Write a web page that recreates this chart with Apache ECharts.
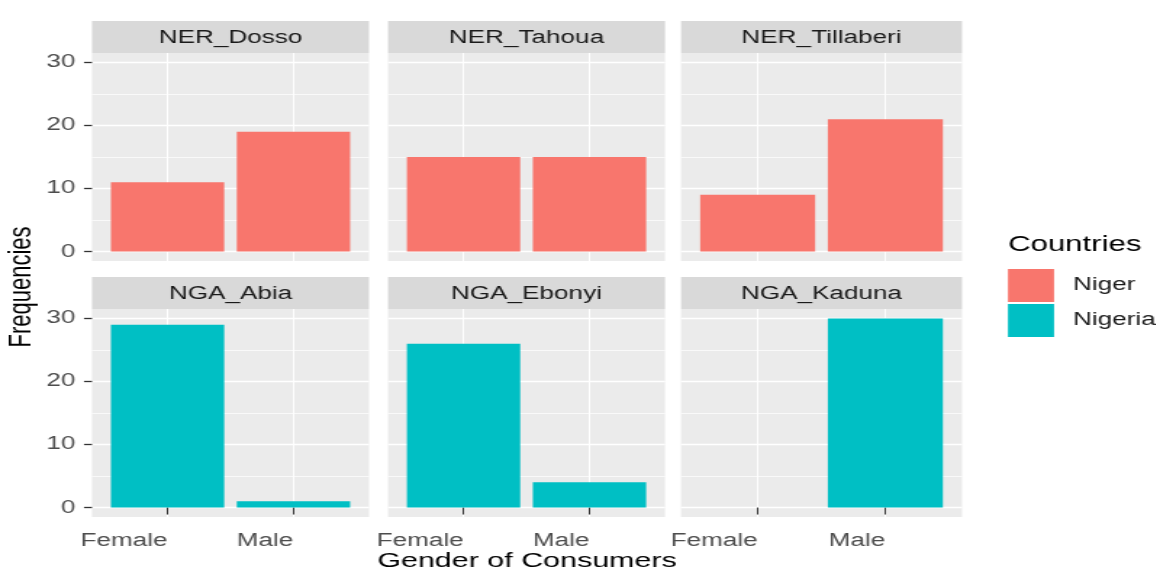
<!DOCTYPE html>
<html>
<head>
<meta charset="utf-8">
<script src="https://cdn.jsdelivr.net/npm/echarts@6/dist/echarts.min.js"></script>
<style>
  html, body { margin: 0; background: #fff; overflow: hidden; }
  /* the source picture is stretched sideways; draw narrow and stretch the same way */
  #main { height: 574px; transform-origin: 0 0; }
</style>
</head>
<body>
<div id="main"></div>
<script>
// data
const regions = ['NER_Dosso', 'NER_Tahoua', 'NER_Tillaberi', 'NGA_Abia', 'NGA_Ebonyi', 'NGA_Kaduna'];
const regionCountry = ['Niger', 'Niger', 'Niger', 'Nigeria', 'Nigeria', 'Nigeria'];
const genders = ['Female', 'Male'];
const femaleCounts = [11, 15, 9, 29, 26, 0];
const maleCounts = [19, 15, 21, 1, 4, 30];
const yTicks = [0, 10, 20, 30];
const yMinorBreaks = [5, 15, 25];
const countries = ['Niger', 'Nigeria'];
const countryColors = ['#F8766D', '#00BFC4'];

// horizontal stretch of the picture
const S = 1.45;
const W = 1156;
const el = document.getElementById('main');
el.style.width = (W / S) + 'px';
el.style.transform = 'scaleX(' + S + ')';
const sx = v => v / S;

// layout (facet panels), in picture pixels
const colLeft = [92, 388, 681];
const colWidth = [277, 277, 281];
const rowTop = [53, 309];
const rowH = 208;
const stripH = 32;
const font = "'Liberation Sans', Arial, sans-serif";

const chart = echarts.init(el);

const grids = [], xAxes = [], yAxes = [], series = [], graphics = [];

regions.forEach((reg, i) => {
  const col = i % 3, row = Math.floor(i / 3);
  grids.push({
    left: sx(colLeft[col]), top: rowTop[row], width: sx(colWidth[col]), height: rowH,
    show: true, backgroundColor: '#EBEBEB', borderWidth: 0
  });
  xAxes.push({
    type: 'value', gridIndex: i, min: 0.4, max: 2.6,
    axisLine: { show: false },
    axisTick: { show: row === 1, customValues: [1, 2], length: 7, lineStyle: { color: '#333333', width: 1 } },
    axisLabel: {
      show: row === 1, customValues: [1, 2], margin: 15, align: 'right',
      formatter: v => genders[Math.round(v) - 1] || '',
      color: '#4D4D4D', fontSize: 18, fontFamily: font
    },
    splitLine: { show: true, lineStyle: { color: '#FFFFFF', width: 1 } }
  });
  // major y
  yAxes.push({
    type: 'value', gridIndex: i, min: -1.5, max: 31.5, position: 'left',
    axisLine: { show: false },
    axisTick: { show: col === 0, customValues: yTicks, length: 5.5, lineStyle: { color: '#333333', width: 1.3 } },
    axisLabel: { show: col === 0, customValues: yTicks, margin: 11.5, color: '#4D4D4D', fontSize: 18, fontFamily: font },
    splitLine: { show: true, lineStyle: { color: '#FFFFFF', width: 1.3 } }
  });
  // minor y gridlines
  yAxes.push({
    type: 'value', gridIndex: i, min: -1.5, max: 31.5, position: 'right',
    axisLine: { show: false },
    axisTick: { show: false, customValues: yMinorBreaks },
    axisLabel: { show: false, customValues: yMinorBreaks },
    splitLine: { show: true, lineStyle: { color: '#FFFFFF', width: 0.7 } }
  });
  const ci = countries.indexOf(regionCountry[i]);
  series.push({
    type: 'bar', name: regionCountry[i],
    xAxisIndex: i, yAxisIndex: 2 * i,
    barWidth: sx(colWidth[col]) / 2.2 * 0.9,
    itemStyle: { color: countryColors[ci] },
    data: [[1, femaleCounts[i]], [2, maleCounts[i]]]
  });
  // strip
  graphics.push({
    type: 'rect', left: sx(colLeft[col]), top: rowTop[row] - stripH,
    shape: { width: sx(colWidth[col]), height: stripH },
    style: { fill: '#D9D9D9' }, silent: true
  });
  graphics.push({
    type: 'text', x: sx(colLeft[col] + colWidth[col] / 2), y: rowTop[row] - stripH / 2 + 1,
    style: { text: reg, fill: '#1A1A1A', font: '18px ' + font, align: 'center', verticalAlign: 'middle' },
    silent: true
  });
});

graphics.push({
  type: 'text', x: sx(527), y: 561,
  style: { text: 'Gender of Consumers', fill: '#000000', font: '21px ' + font, align: 'center', verticalAlign: 'middle' }
});
graphics.push({
  type: 'text', x: sx(22), y: 287, rotation: Math.PI / 2,
  style: { text: 'Frequencies', fill: '#000000', font: '22px ' + font, align: 'center', verticalAlign: 'middle' }
});
graphics.push({
  type: 'text', x: sx(1008), y: 245,
  style: { text: 'Countries', fill: '#000000', font: '21.5px ' + font, align: 'left', verticalAlign: 'middle' }
});

chart.setOption({
  backgroundColor: '#FFFFFF',
  animation: false,
  grid: grids,
  xAxis: xAxes,
  yAxis: yAxes,
  series: series,
  legend: {
    data: countries, orient: 'vertical', left: sx(1008), top: 269, padding: 0,
    icon: 'rect', itemWidth: sx(46), itemHeight: 33, itemGap: 2,
    selectedMode: false,
    textStyle: { fontSize: 18, color: '#1A1A1A', fontFamily: font, padding: [0, 0, 0, sx(19) - 5] }
  },
  graphic: graphics
});
</script>
</body>
</html>
